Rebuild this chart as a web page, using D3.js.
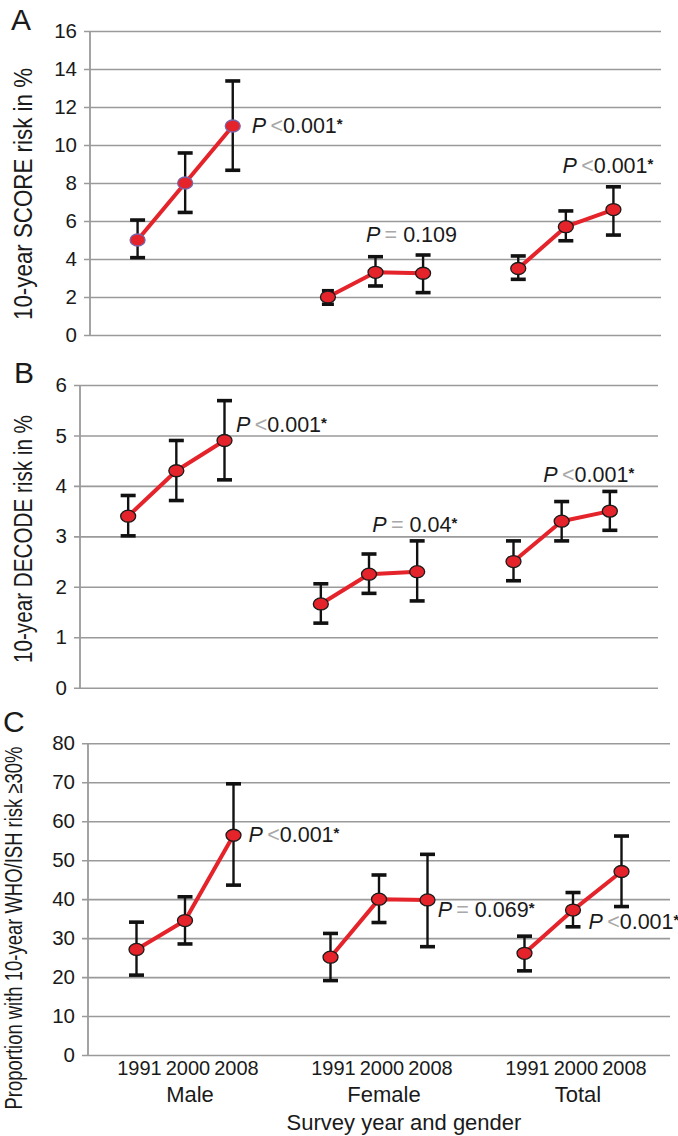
<!DOCTYPE html>
<html><head><meta charset="utf-8">
<script src="https://cdn.jsdelivr.net/npm/d3@7"></script>
<style>
html,body{margin:0;padding:0;background:#fff;}
svg{display:block;}
text{font-family:"Liberation Sans",Arial,sans-serif;fill:#1a1a1a;}
</style></head>
<body>
<svg id="chart" width="678" height="1136"></svg>
<script>
// ---------- data ----------
const groups = ["Male", "Female", "Total"];
const years = ["1991", "2000", "2008"];

const panelLetters = ["A", "B", "C"];
const yTitles = ["10-year SCORE risk in %", "10-year DECODE risk in %", "Proportion with 10-year WHO/ISH risk \u226530%"];
const yTicksA = [0, 2, 4, 6, 8, 10, 12, 14, 16];
const yTicksB = [0, 1, 2, 3, 4, 5, 6];
const yTicksC = [0, 10, 20, 30, 40, 50, 60, 70, 80];

// order: Male 1991,2000,2008, Female 1991,2000,2008, Total 1991,2000,2008
const scoreMean = [5.0, 8.0, 11.0, 2.0, 3.3, 3.25, 3.5, 5.7, 6.6];
const scoreLow  = [4.07, 6.45, 8.67, 1.62, 2.58, 2.23, 2.93, 4.96, 5.26];
const scoreHigh = [6.05, 9.58, 13.37, 2.33, 4.12, 4.21, 4.16, 6.53, 7.8];

const decodeMean = [3.4, 4.3, 4.9, 1.66, 2.25, 2.3, 2.5, 3.3, 3.5];
const decodeLow  = [3.01, 3.71, 4.12, 1.28, 1.87, 1.72, 2.12, 2.91, 3.12];
const decodeHigh = [3.81, 4.9, 5.69, 2.06, 2.65, 2.91, 2.91, 3.69, 3.89];

const whoMean = [27.1, 34.5, 56.4, 25.1, 40.0, 39.8, 26.1, 37.2, 47.1];
const whoLow  = [20.5, 28.5, 43.6, 19.1, 34.0, 27.8, 21.6, 32.9, 38.1];
const whoHigh = [34.1, 40.6, 69.6, 31.2, 46.2, 51.5, 30.5, 41.7, 56.2];

// P-value labels: [relation, value, star] per group
const pA = [["<", "0.001", true], ["=", "0.109", false], ["<", "0.001", true]];
const pB = [["<", "0.001", true], ["=", "0.04", true], ["<", "0.001", true]];
const pC = [["<", "0.001", true], ["=", "0.069", true], ["<", "0.001", true]];

const xTitle = "Survey year and gender";

// ---------- layout ----------
const panels = [
  {letter: panelLetters[0], title: yTitles[0], ticks: yTicksA, mean: scoreMean, low: scoreLow, high: scoreHigh, p: pA,
   left: 90, right: 661, top: 31, bottom: 335, letterX: 11, letterY: 30,
   titleX: 32, titleY: 194, titleLen: 252, titleSize: 25,
   pPos: [[3.40, 10.62], [5.80, 4.91], [9.93, 8.53]], maleOutline: "#7a62a8"},
  {letter: panelLetters[1], title: yTitles[1], ticks: yTicksB, mean: decodeMean, low: decodeLow, high: decodeHigh, p: pB,
   left: 80, right: 658, top: 385, bottom: 687.7, letterX: 14, letterY: 383,
   titleX: 32, titleY: 539, titleLen: 248, titleSize: 25,
   pPos: [[3.24, 5.07], [6.07, 3.08], [9.62, 4.07]]},
  {letter: panelLetters[2], title: yTitles[2], ticks: yTicksC, mean: whoMean, low: whoLow, high: whoHigh, p: pC,
   left: 88, right: 670, top: 743.3, bottom: 1055, letterX: 3, letterY: 732,
   titleX: 22, titleY: 928, titleLen: 363, titleSize: 23,
   pPos: [[3.31, 54.75], [7.21, 35.4], [10.32, 32.3]], xAxis: true}
];

const RED = "#e4232a";
const svg = d3.select("#chart");
const slot = i => 1 + Math.floor(i / 3) * 4 + (i % 3);

panels.forEach(P => {
  const x = d3.scaleLinear().domain([0, 12]).range([P.left, P.right]);
  const maxT = P.ticks[P.ticks.length - 1];
  const y = d3.scaleLinear().domain([0, maxT]).range([P.bottom, P.top]);
  const g = svg.append("g");
  const w = P.right - P.left;

  // y axis with gridlines
  const ax = g.append("g").attr("transform", `translate(${P.right},0)`)
    .call(d3.axisLeft(y).tickValues(P.ticks).tickSize(w + 6).tickPadding(7).tickFormat(d3.format("d")));
  ax.select(".domain").remove();
  ax.selectAll(".tick line").attr("stroke", "#9a9a9a").attr("stroke-width", 1.6);
  ax.selectAll(".tick text").attr("font-size", 20.5).attr("fill", "#1a1a1a")
    .attr("font-family", "Liberation Sans, Arial, sans-serif");
  g.append("line").attr("x1", P.left).attr("x2", P.left).attr("y1", P.top).attr("y2", P.bottom + 1)
    .attr("stroke", "#9a9a9a").attr("stroke-width", 1.8);

  // letter
  g.append("text").attr("x", P.letterX).attr("y", P.letterY).attr("font-size", 30).text(P.letter);

  // y title (condensed via textLength)
  g.append("text").attr("transform", `translate(${P.titleX},${P.titleY}) rotate(-90)`)
    .attr("text-anchor", "middle").attr("font-size", P.titleSize)
    .attr("textLength", P.titleLen).attr("lengthAdjust", "spacingAndGlyphs")
    .text(P.title);

  const idx = d3.range(9);
  // error bars
  const eb = g.append("g").attr("stroke", "#111");
  idx.forEach(i => {
    const cx = x(slot(i));
    const capW = (P.high[i] - P.low[i]) / maxT < 0.06 ? 6 : 7.5;
    eb.append("line").attr("x1", cx).attr("x2", cx).attr("y1", y(P.high[i])).attr("y2", y(P.low[i])).attr("stroke-width", 2.4);
    [P.high[i], P.low[i]].forEach(v => {
      eb.append("line").attr("x1", cx - capW).attr("x2", cx + capW).attr("y1", y(v)).attr("y2", y(v)).attr("stroke-width", 3.6);
    });
  });

  // lines
  const line = d3.line().x(i => x(slot(i))).y(i => y(P.mean[i]));
  groups.forEach((gr, gi) => {
    g.append("path").datum([gi * 3, gi * 3 + 1, gi * 3 + 2]).attr("d", line)
      .attr("fill", "none").attr("stroke", RED).attr("stroke-width", 4).attr("stroke-linejoin", "round");
  });

  // markers
  idx.forEach(i => {
    g.append("ellipse").attr("cx", x(slot(i))).attr("cy", y(P.mean[i])).attr("rx", 7.5).attr("ry", 6)
      .attr("fill", RED).attr("stroke", (P.maleOutline && i < 3) ? P.maleOutline : "#1a1a1a").attr("stroke-width", 1.3);
  });

  // p labels
  P.p.forEach((pl, gi) => {
    const t = g.append("text").attr("x", x(P.pPos[gi][0])).attr("y", y(P.pPos[gi][1])).attr("font-size", 21.5);
    t.append("tspan").attr("font-style", "italic").text("P");
    t.append("tspan").attr("fill", "#a8a8a8").text(pl[0] === "=" ? "\u2009= " : "\u2009<");
    t.append("tspan").text(pl[1]);
    if (pl[2]) t.append("tspan").attr("font-weight", "bold").attr("font-size", 15).attr("dy", -4).text("*");
  });

  if (P.xAxis) {
    idx.forEach(i => {
      g.append("text").attr("x", x(slot(i)) + 3).attr("y", 1075).attr("text-anchor", "middle")
        .attr("font-size", 20).text(years[i % 3]);
    });
    groups.forEach((gr, gi) => {
      g.append("text").attr("x", x(slot(gi * 3 + 1)) + 5).attr("y", 1102).attr("text-anchor", "middle")
        .attr("font-size", 22).text(gr);
    });
    g.append("text").attr("x", 404).attr("y", 1130).attr("text-anchor", "middle").attr("font-size", 22).text(xTitle);
  }
});
</script>
</body></html>
